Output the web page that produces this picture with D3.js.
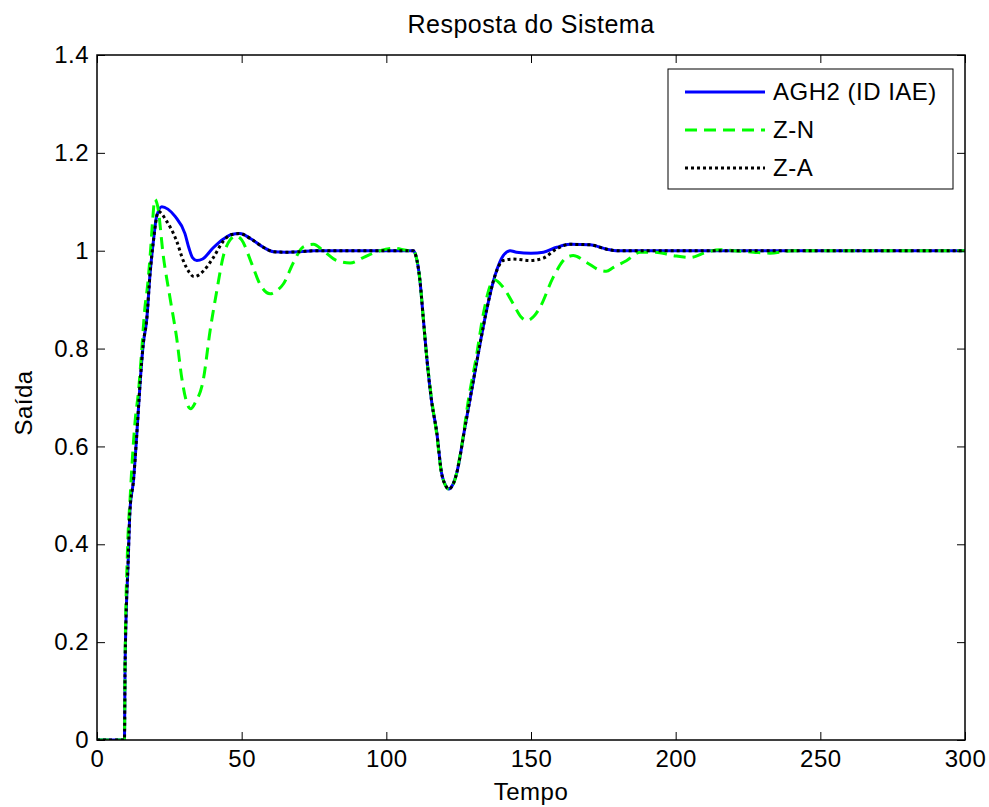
<!DOCTYPE html>
<html>
<head>
<meta charset="utf-8">
<script src="https://cdn.jsdelivr.net/npm/d3@7"></script>
<style>
  body { margin: 0; background: #fff; }
  text { font-family: "Liberation Sans", Arial, Helvetica, sans-serif; fill: #000; }
</style>
</head>
<body>
<script>
// step response: [tempo, saida]
const agh2 = [
  [0,0],[9.5,0],[9.7,0.15],[10.8,0.37],[11.4,0.47],[12.6,0.53],[13.7,0.62],[14.9,0.73],
  [16.0,0.81],[17.2,0.86],[18.3,0.95],[19.5,1.02],[20.6,1.07],[22.4,1.09],[24.5,1.085],
  [27,1.07],[30.4,1.035],[31.8,1.005],[33,0.986],[34.5,0.98],[36.5,0.983],[40,1.005],
  [43.7,1.024],[46.5,1.033],[49.4,1.035],[53,1.025],[57.5,1.007],[61,0.998],[65,0.997],
  [70,0.998],[75,1.0],[100,1.0],[109.3,1.0],[110.2,0.99],[111.6,0.94],[112.8,0.86],[114,0.78],
  [115.7,0.69],[117.4,0.63],[119.1,0.545],[120.5,0.52],[121.6,0.513],[122.8,0.52],
  [124.3,0.545],[127.2,0.64],[130.1,0.735],[132.4,0.81],[134.7,0.88],[137.6,0.95],
  [140.4,0.99],[142.8,1.0],[145,0.997],[150,0.995],[154.3,0.997],[158.9,1.007],
  [163.5,1.013],[170.4,1.012],[176.2,1.003],[180,1.0],[300,1.0]
];
const zn = [
  [0,0],[9.5,0],[9.7,0.16],[10.5,0.38],[11.5,0.5],[12.5,0.6],[13.3,0.66],[14.3,0.71],
  [15.5,0.8],[16.5,0.88],[17.5,0.93],[18.5,1.0],[19.2,1.06],[20,1.105],[21,1.09],
  [22.9,0.99],[25.2,0.905],[27.5,0.823],[29.3,0.74],[31,0.69],[32.4,0.677],[34,0.69],
  [36.7,0.735],[39.1,0.837],[41.4,0.918],[43.7,0.99],[46,1.022],[48,1.03],[50,1.022],
  [53.5,0.973],[56.3,0.932],[59.8,0.912],[62,0.918],[64.4,0.932],[67.9,0.976],[71.3,1.008],
  [74.8,1.013],[78.2,1.0],[82.8,0.98],[87.5,0.975],[92,0.986],[97.8,1.0],[102.4,1.005],
  [108.2,1.0],[109.5,1.0],[110.2,0.99],[111.6,0.94],[112.8,0.86],[114,0.78],[115.7,0.695],
  [117.4,0.625],[119.1,0.545],[121.6,0.513],[123.6,0.53],[126,0.6],[128.5,0.7],[131,0.78],
  [133.5,0.87],[136,0.93],[137.5,0.94],[140.4,0.925],[143.9,0.891],[146.5,0.865],
  [148.5,0.857],[151,0.866],[153.1,0.884],[157.7,0.946],[162.3,0.986],[164.6,0.99],
  [169.2,0.976],[173.9,0.96],[176,0.958],[178.5,0.966],[183.1,0.98],[187.7,0.997],
  [193,0.997],[199.2,0.99],[205,0.986],[210.7,0.997],[215.3,1.002],[220,1.0],[226.9,0.997],
  [232.6,0.995],[237.2,0.998],[240,1.0],[300,1.0]
];
const za = [
  [0,0],[9.5,0],[9.7,0.15],[10.8,0.37],[11.4,0.47],[12.6,0.53],[13.7,0.62],[14.9,0.73],
  [16.0,0.81],[17.2,0.86],[18.3,0.95],[19.5,1.02],[21.2,1.08],[24.1,1.06],[27.5,1.02],
  [29.8,0.98],[32,0.955],[33.5,0.947],[36.7,0.958],[40.2,0.986],[43.7,1.02],[46.5,1.033],
  [49.4,1.035],[53,1.025],[57.5,1.007],[61,0.998],[65,0.997],[70,0.998],[75,1.0],[100,1.0],
  [109.3,1.0],[110.2,0.99],[111.6,0.94],[112.8,0.86],[114,0.78],[115.7,0.69],[117.4,0.63],
  [119.1,0.545],[120.5,0.52],[121.6,0.513],[122.8,0.52],[124.3,0.545],[127.2,0.64],
  [130.1,0.735],[132.4,0.81],[134.7,0.88],[137.6,0.95],[140.4,0.98],[143.9,0.983],
  [149.7,0.98],[154.3,0.985],[158.9,1.004],[163.5,1.013],[170.4,1.012],[176.2,1.003],
  [180,1.0],[300,1.0]
];

const seriesNames = ["AGH2 (ID IAE)", "Z-N", "Z-A"];
const xTicks = [0, 50, 100, 150, 200, 250, 300];
const yTicks = [0, 0.2, 0.4, 0.6, 0.8, 1, 1.2, 1.4];

const width = 989, height = 807;
const mLeft = 97, mRight = 965, mTop = 55, mBottom = 740;
const fontSize = "24px";

const x = d3.scaleLinear().domain([0, 300]).range([mLeft, mRight]);
const y = d3.scaleLinear().domain([0, 1.4]).range([mBottom, mTop]);

const svg = d3.select("body").append("svg")
    .attr("width", width)
    .attr("height", height);

const styles = [
  {data: agh2, color: "#0000ff", dash: null},
  {data: zn, color: "#00ff00", dash: "12,7"},
  {data: za, color: "#000000", dash: "3,3"}
];

const line = d3.line()
    .x(d => x(d[0]))
    .y(d => y(d[1]))
    .curve(d3.curveMonotoneX);

svg.append("defs").append("clipPath").attr("id", "clip")
  .append("rect")
    .attr("x", mLeft).attr("y", mTop)
    .attr("width", mRight - mLeft).attr("height", mBottom - mTop);

svg.append("g")
    .attr("clip-path", "url(#clip)")
  .selectAll("path")
  .data(styles)
  .join("path")
    .attr("d", d => line(d.data))
    .attr("fill", "none")
    .attr("stroke", d => d.color)
    .attr("stroke-width", 3)
    .attr("stroke-dasharray", d => d.dash);

// axes, matlab style: ticks inward on all four sides
const axisFont = g => g.selectAll("text")
    .style("font-family", "'Liberation Sans', Arial, sans-serif")
    .style("font-size", fontSize)
    .style("letter-spacing", "0.5px")
    .attr("fill", "#000");

svg.append("g")
    .attr("transform", `translate(0,${mBottom})`)
    .call(d3.axisBottom(x).tickValues(xTicks).tickSize(-8).tickPadding(10).tickFormat(d3.format("d")))
    .call(g => g.select(".domain").remove())
    .call(axisFont);
svg.append("g")
    .attr("transform", `translate(0,${mTop})`)
    .call(d3.axisTop(x).tickValues(xTicks).tickSize(-8).tickFormat(""))
    .call(g => g.select(".domain").remove());
svg.append("g")
    .attr("transform", `translate(${mLeft},0)`)
    .call(d3.axisLeft(y).tickValues(yTicks).tickSize(-8).tickPadding(8).tickFormat(d => String(+d.toFixed(1))))
    .call(g => g.select(".domain").remove())
    .call(axisFont);
svg.append("g")
    .attr("transform", `translate(${mRight},0)`)
    .call(d3.axisRight(y).tickValues(yTicks).tickSize(-8).tickFormat(""))
    .call(g => g.select(".domain").remove());

svg.selectAll(".tick line").attr("stroke", "#000");

svg.append("rect")
    .attr("x", mLeft).attr("y", mTop)
    .attr("width", mRight - mLeft).attr("height", mBottom - mTop)
    .attr("fill", "none")
    .attr("stroke", "#000")
    .attr("stroke-width", 1.5);

svg.append("text")
    .attr("x", (mLeft + mRight) / 2)
    .attr("y", 33)
    .attr("text-anchor", "middle")
    .style("font-size", "25px")
    .style("letter-spacing", "0.5px")
    .text("Resposta do Sistema");

svg.append("text")
    .attr("x", (mLeft + mRight) / 2)
    .attr("y", 800)
    .attr("text-anchor", "middle")
    .style("font-size", fontSize)
    .style("letter-spacing", "0.5px")
    .text("Tempo");

svg.append("text")
    .attr("transform", `translate(32,403) rotate(-90)`)
    .attr("text-anchor", "middle")
    .style("font-size", fontSize)
    .style("letter-spacing", "0.5px")
    .text("Saída");

// legend
const legend = svg.append("g");
legend.append("rect")
    .attr("x", 668).attr("y", 69)
    .attr("width", 285).attr("height", 120)
    .attr("fill", "#fff")
    .attr("stroke", "#000")
    .attr("stroke-width", 1);

const rows = legend.selectAll("g.row")
  .data(styles)
  .join("g")
    .attr("class", "row")
    .attr("transform", (d, i) => `translate(0,${92 + i * 38})`);
rows.append("line")
    .attr("x1", 685).attr("x2", 765)
    .attr("stroke", d => d.color)
    .attr("stroke-width", 3)
    .attr("stroke-dasharray", d => d.dash);
rows.append("text")
    .attr("x", 773)
    .attr("dy", "0.35em")
    .style("font-size", fontSize)
    .style("letter-spacing", "0.5px")
    .text((d, i) => seriesNames[i]);
</script>
</body>
</html>
